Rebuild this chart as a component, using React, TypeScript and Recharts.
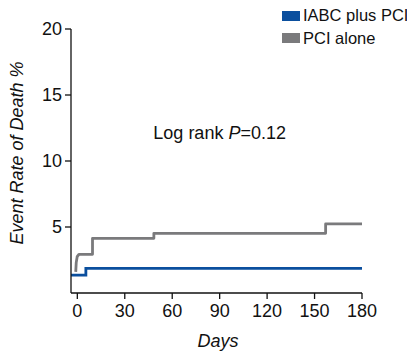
import React from 'react';
import { LineChart, Line, XAxis, YAxis, ReferenceDot, Customized } from 'recharts';

const seriesNames = ['IABC plus PCI', 'PCI alone'];
const seriesColors = ['#0b4f9e', '#7a7a7c'];

const iabcDays = [-4, 5.4, 5.4, 180];
const iabcRates = [1.36, 1.36, 1.87, 1.87];

const pciDays = [-1, -0.7, -0.1, 1, 2.5, 9.6, 9.6, 48.4, 48.4, 157, 157, 180];
const pciRates = [1.6, 2.3, 2.75, 2.93, 2.93, 2.93, 4.14, 4.14, 4.52, 4.52, 5.23, 5.23];

const xTicks = [0, 30, 60, 90, 120, 150, 180];
const yTicks = [5, 10, 15, 20];

const iabcData = iabcDays.map((d, i) => ({ day: d, rate: iabcRates[i] }));
const pciData = pciDays.map((d, i) => ({ day: d, rate: pciRates[i] }));

const FONT = '"Liberation Sans", Arial, Helvetica, sans-serif';

const LegendBlock = () => (
  <g>
    {seriesNames.map((n, i) => (
      <g key={n}>
        <rect x={282} y={11 + i * 22} width={18} height={10} fill={seriesColors[i]} />
        <text x={303} y={21 + i * 23} fontSize={16.5} fontFamily={FONT} fill="#111">
          {n}
        </text>
      </g>
    ))}
  </g>
);

const YLabel = () => (
  <text
    transform="translate(23,153) rotate(-90)"
    textAnchor="middle"
    fontSize={18}
    fontStyle="italic"
    fontFamily={FONT}
    fill="#111"
  >
    Event Rate of Death %
  </text>
);

const XLabel = () => (
  <text x={218} y={347} textAnchor="middle" fontSize={18} fontStyle="italic" fontFamily={FONT} fill="#111">
    Days
  </text>
);

const AnnotLabel = (props: any) => {
  const { viewBox } = props;
  const cx = viewBox ? viewBox.x + (viewBox.width || 0) / 2 : 220;
  const cy = viewBox ? viewBox.y + (viewBox.height || 0) / 2 : 132;
  return (
    <text x={cx} y={cy + 7} textAnchor="middle" fontSize={18} fontFamily={FONT} fill="#111">
      Log rank <tspan fontStyle="italic">P</tspan>=0.12
    </text>
  );
};

export default function App() {
  return (
    <div style={{ position: 'absolute', left: 0, top: 0 }}>
      <LineChart
        width={407}
        height={353}
        margin={{ top: 29, right: 45, bottom: 30, left: 21 }}
      >
        <XAxis
          dataKey="day"
          type="number"
          domain={[-4, 180]}
          ticks={xTicks}
          allowDataOverflow
          stroke="#111"
          strokeWidth={1.3}
          tickSize={6}
          tickMargin={5}
          height={30}
          tick={{ fontSize: 18, fill: '#111', fontFamily: FONT }}
        />
        <YAxis
          type="number"
          domain={[0, 20]}
          ticks={yTicks}
          allowDataOverflow
          stroke="#111"
          strokeWidth={1.3}
          tickSize={6}
          tickMargin={3}
          width={50}
          tick={{ fontSize: 18, fill: '#111', fontFamily: FONT }}
        />
        <Line
          data={pciData}
          dataKey="rate"
          type="linear"
          stroke={seriesColors[1]}
          strokeWidth={2.8}
          dot={false}
          isAnimationActive={false}
          strokeLinejoin="round"
        />
        <Line
          data={iabcData}
          dataKey="rate"
          type="linear"
          stroke={seriesColors[0]}
          strokeWidth={2.8}
          dot={false}
          isAnimationActive={false}
        />
        <ReferenceDot x={90} y={12.2} r={0} fill="none" stroke="none" label={<AnnotLabel />} />
        <Customized component={LegendBlock} />
        <Customized component={YLabel} />
        <Customized component={XLabel} />
      </LineChart>
    </div>
  );
}
